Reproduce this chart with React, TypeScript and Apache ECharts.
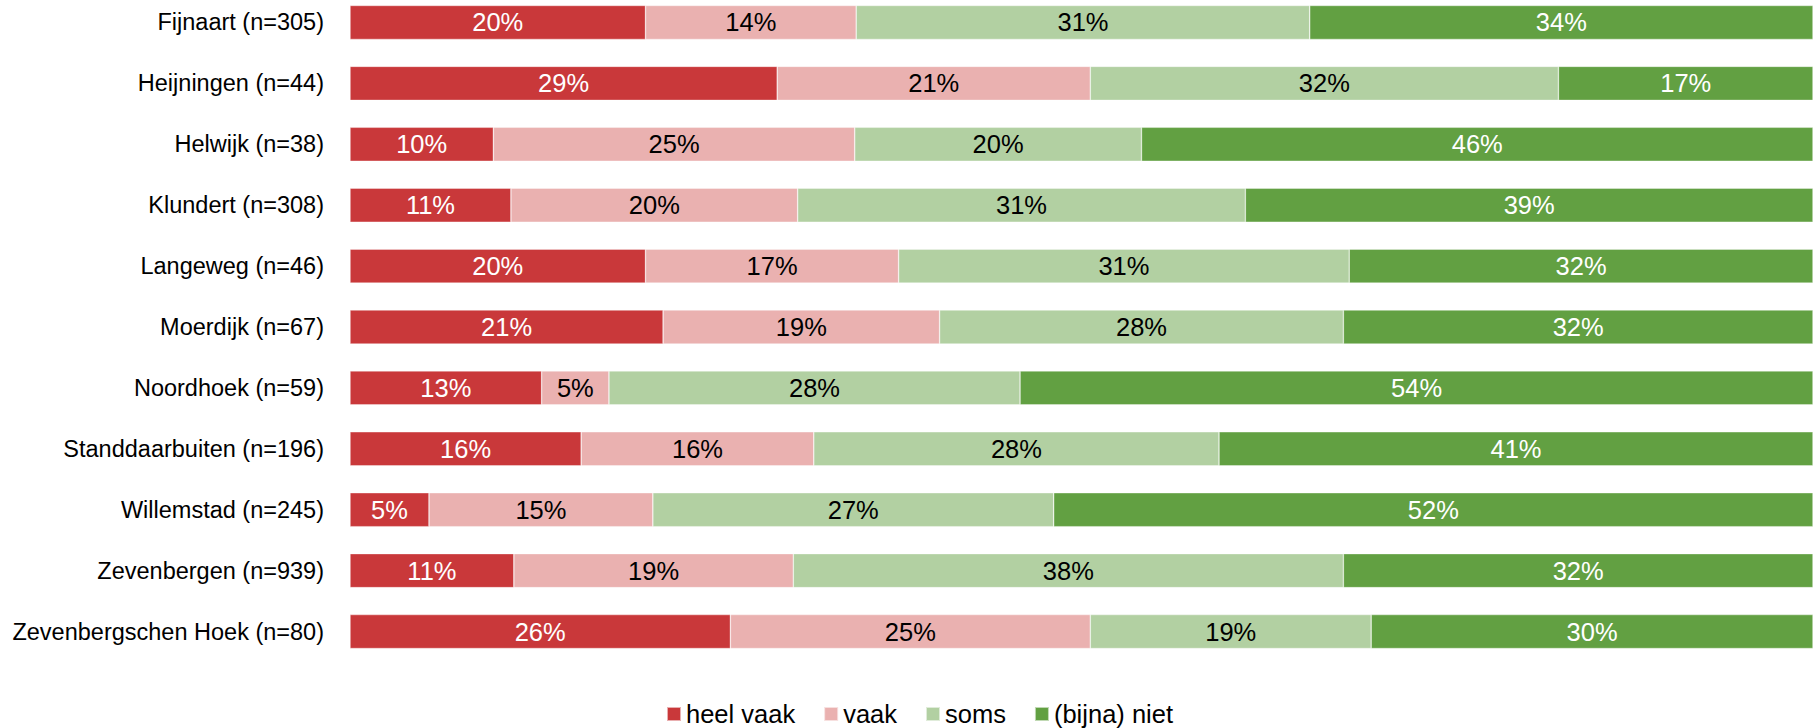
import React, { useEffect, useRef } from "react";
import * as echarts from "echarts";

const categories = [
  "Fijnaart (n=305)",
  "Heijningen (n=44)",
  "Helwijk (n=38)",
  "Klundert (n=308)",
  "Langeweg (n=46)",
  "Moerdijk (n=67)",
  "Noordhoek (n=59)",
  "Standdaarbuiten (n=196)",
  "Willemstad (n=245)",
  "Zevenbergen (n=939)",
  "Zevenbergschen Hoek (n=80)",
];

const heelVaak = [20.2, 29.2, 9.8, 11.0, 20.2, 21.4, 13.1, 15.8, 5.4, 11.2, 26.0];
const vaak = [14.4, 21.4, 24.7, 19.6, 17.3, 18.9, 4.6, 15.9, 15.3, 19.1, 24.6];
const soms = [31.0, 32.0, 19.6, 30.6, 30.8, 27.6, 28.1, 27.7, 27.4, 37.6, 19.2];
const bijnaNiet = [34.4, 17.4, 45.9, 38.8, 31.7, 32.1, 54.2, 40.6, 51.9, 32.1, 30.2];

const seriesNames = ["heel vaak", "vaak", "soms", "(bijna) niet"];
const seriesColors = ["#C9383A", "#EAB1B0", "#B2D0A2", "#62A042"];
const labelColors = ["#FFFFFF", "#000000", "#000000", "#FFFFFF"];
const seriesData = [heelVaak, vaak, soms, bijnaNiet];

const FONT = "'Liberation Sans', Arial, Helvetica, sans-serif";

export default function App() {
  const ref = useRef<HTMLDivElement>(null);

  useEffect(() => {
    if (!ref.current) return;
    const chart = echarts.init(ref.current, undefined, { renderer: "svg" });
    chart.setOption({
      animation: false,
      backgroundColor: "#FFFFFF",
      textStyle: { fontFamily: FONT },
      grid: { left: 350, right: 4, top: 0, height: 670, containLabel: false },
      xAxis: {
        type: "value",
        min: 0,
        max: 100,
        show: false,
      },
      yAxis: {
        type: "category",
        data: categories,
        inverse: true,
        axisLine: { show: false },
        axisTick: { show: false },
        splitLine: { show: false },
        axisLabel: {
          color: "#000000",
          fontSize: 23.5,
          fontFamily: FONT,
          margin: 26,
        },
      },
      legend: {
        show: true,
        left: 666,
        top: 709,
        padding: 0,
        itemWidth: 14,
        itemHeight: 14,
        itemGap: 28,
        icon: "rect",
        textStyle: { color: "#000000", fontSize: 25.5, fontFamily: FONT },
        data: seriesNames,
      },
      series: seriesData.map((d, i) => ({
        name: seriesNames[i],
        type: "bar",
        stack: "total",
        barWidth: 34,
        data: d,
        itemStyle: {
          color: seriesColors[i],
          borderColor: "rgba(255,255,255,0.6)",
          borderWidth: 0.6,
        },
        label: {
          show: true,
          position: "inside",
          color: labelColors[i],
          fontSize: 25.5,
          fontFamily: FONT,
          formatter: (p: any) => Math.round(p.value) + "%",
        },
      })),
    });
    return () => chart.dispose();
  }, []);

  return (
    <div
      ref={ref}
      style={{ position: "fixed", left: 0, top: -8, width: 1817, height: 736 }}
    />
  );
}
